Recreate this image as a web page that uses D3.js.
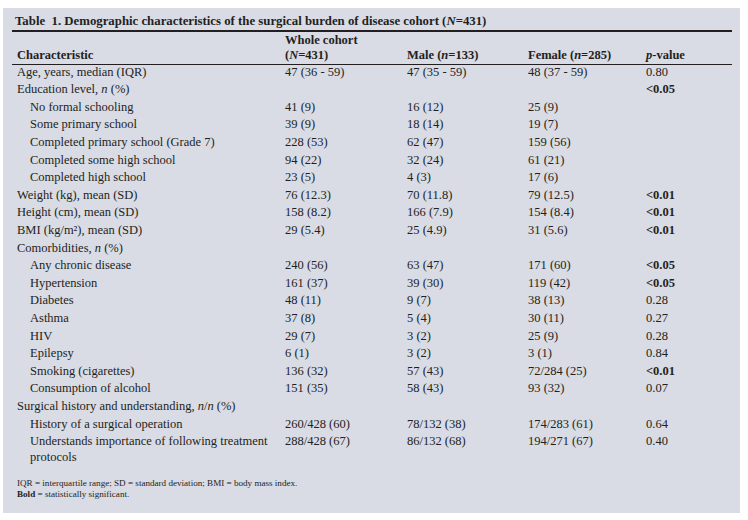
<!DOCTYPE html>
<html>
  <head>
    <meta charset="utf-8">
    <title>Table 1</title>
    <style>
      body { margin: 0; background: #fff; }
      text { font-family: "Liberation Serif", "Times New Roman", serif; fill: #231f20; }
    </style>
  </head>
  <body>
    <script src="https://d3js.org/d3.v7.min.js"></script>
    <svg id="table" width="748" height="520"></svg>
    <script>
      // table content; *x* = italic, **x** = bold
      const labels = [
        "Age, years, median (IQR)", "Education level, *n* (%)",
        "No formal schooling", "Some primary school", "Completed primary school (Grade 7)",
        "Completed some high school", "Completed high school",
        "Weight (kg), mean (SD)", "Height (cm), mean (SD)", "BMI (kg/m\u00b2), mean (SD)",
        "Comorbidities, *n* (%)",
        "Any chronic disease", "Hypertension", "Diabetes", "Asthma", "HIV", "Epilepsy",
        "Smoking (cigarettes)", "Consumption of alcohol",
        "Surgical history and understanding, *n*/*n* (%)",
        "History of a surgical operation", "Understands importance of following treatment|protocols"
      ]
      const indent = [0,0,1,1,1,1,1,0,0,0,0,1,1,1,1,1,1,1,1,0,1,1]
      const whole = ["47 (36 - 59)", "", "41 (9)", "39 (9)", "228 (53)", "94 (22)", "23 (5)",
        "76 (12.3)", "158 (8.2)", "29 (5.4)", "", "240 (56)", "161 (37)", "48 (11)", "37 (8)",
        "29 (7)", "6 (1)", "136 (32)", "151 (35)", "", "260/428 (60)", "288/428 (67)"]
      const male = ["47 (35 - 59)", "", "16 (12)", "18 (14)", "62 (47)", "32 (24)", "4 (3)",
        "70 (11.8)", "166 (7.9)", "25 (4.9)", "", "63 (47)", "39 (30)", "9 (7)", "5 (4)",
        "3 (2)", "3 (2)", "57 (43)", "58 (43)", "", "78/132 (38)", "86/132 (68)"]
      const female = ["48 (37 - 59)", "", "25 (9)", "19 (7)", "159 (56)", "61 (21)", "17 (6)",
        "79 (12.5)", "154 (8.4)", "31 (5.6)", "", "171 (60)", "119 (42)", "38 (13)", "30 (11)",
        "25 (9)", "3 (1)", "72/284 (25)", "93 (32)", "", "174/283 (61)", "194/271 (67)"]
      const pvalue = ["0.80", "**<0.05**", "", "", "", "", "", "**<0.01**", "**<0.01**", "**<0.01**",
        "", "**<0.05**", "**<0.05**", "0.28", "0.27", "0.28", "0.84", "**<0.01**", "0.07", "",
        "0.64", "0.40"]
      const headers = ["Characteristic", "Whole cohort|(*N*=431)", "Male (*n*=133)", "Female (*n*=285)", "*p*-value"]
      const title = "Table\u00a0 1. Demographic characteristics of the surgical burden of disease cohort (*N*=431)"
      const notes = ["IQR = interquartile range; SD = standard deviation; BMI = body mass index.",
        "**Bold** = statistically significant."]

      const svg = d3.select('#table')
      const fs = 12.5

      svg.append('rect')
        .attr('x', 3).attr('y', 8).attr('width', 737).attr('height', 505)
        .attr('fill', '#d9dbe5')

      // columns
      const colX = d3.scaleOrdinal()
        .domain(["label", "whole", "male", "female", "p"])
        .range([17, 285, 407, 528, 646])
      const rowY = d3.scalePoint()
        .domain(d3.range(labels.length))
        .range([75.5, 75.5 + 17.6 * (labels.length - 1)])

      // write text with *italic* and **bold** pieces
      function rich(sel, str) {
        const parts = str.split(/(\*\*[^*]+\*\*|\*[^*]+\*)/).filter(s => s.length)
        parts.forEach(p => {
          const t = sel.append('tspan')
          if (p.startsWith('**')) t.attr('font-weight', 'bold').text(p.slice(2, -2))
          else if (p.startsWith('*')) t.attr('font-style', 'italic').text(p.slice(1, -1))
          else t.text(p)
        })
      }
      function cell(x, y, str, opts = {}) {
        str.split('|').forEach((line, i) => {
          const t = svg.append('text')
            .attr('x', x).attr('y', y + i * (opts.lh || 16))
            .attr('font-size', opts.size || fs)
            .attr('font-weight', opts.weight || null)
          rich(t, line)
        })
      }

      // title + rules
      cell(15, 25, title, {weight: 'bold', size: 12.8})
      svg.append('line').attr('x1', 12).attr('x2', 732).attr('y1', 31).attr('y2', 31)
        .attr('stroke', '#231f20').attr('stroke-width', 1.8)

      // header
      const keys = colX.domain()
      headers.forEach((h, i) => {
        const lines = h.split('|').length
        cell(colX(keys[i]), 59.3 - (lines - 1) * 15, h, {weight: 'bold', lh: 15})
      })
      svg.append('line').attr('x1', 12).attr('x2', 732).attr('y1', 64.5).attr('y2', 64.5)
        .attr('stroke', '#231f20').attr('stroke-width', 1)

      // body
      labels.forEach((lab, i) => {
        const y = rowY(i)
        cell(colX("label") + indent[i] * 13, y, lab)
        cell(colX("whole"), y, whole[i])
        cell(colX("male"), y, male[i])
        cell(colX("female"), y, female[i])
        cell(colX("p"), y, pvalue[i])
      })

      // footnotes
      notes.forEach((n, i) => cell(17, 486 + i * 11, n, {size: 9.1}))
    </script>
  </body>
</html>
